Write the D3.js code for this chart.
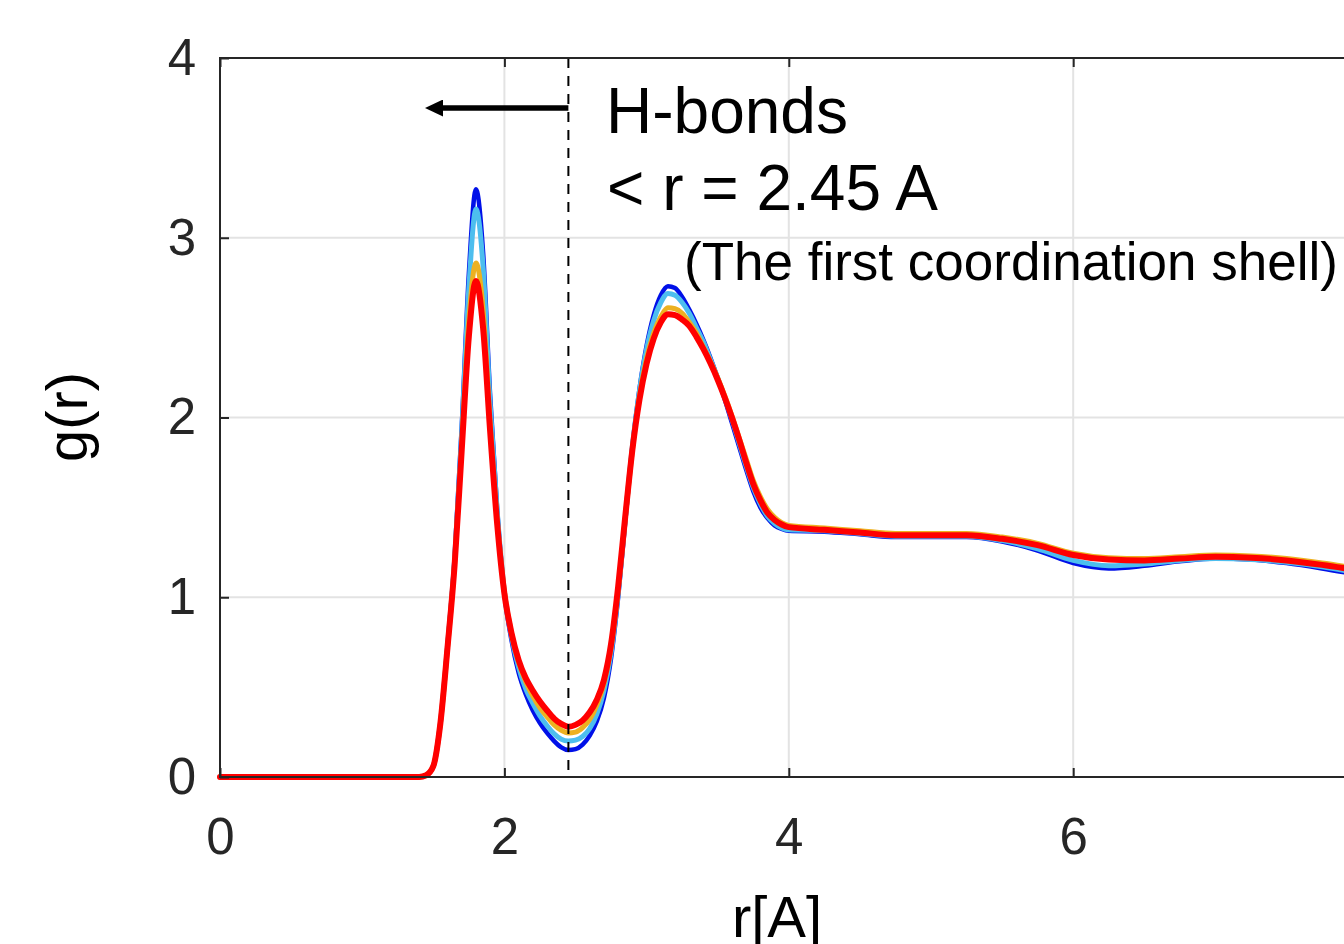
<!DOCTYPE html>
<html>
<head>
<meta charset="utf-8">
<script src="https://cdn.jsdelivr.net/npm/d3@7"></script>
<style>
  html, body { margin: 0; padding: 0; background: #fff; overflow: hidden; }
  svg { display: block; font-family: "Liberation Sans", Arial, Helvetica, sans-serif; }
</style>
</head>
<body>
<svg id="chart" width="1344" height="944"></svg>
<script>
// Radial distances r [A] shared by every curve
const rValues = [0, 0.5, 1.0,
  1.40, 1.45, 1.50, 1.55, 1.60, 1.65, 1.70, 1.75, 1.80, 1.85, 1.90, 1.95,
  2.00, 2.05, 2.10, 2.15, 2.20, 2.25, 2.30, 2.35, 2.40, 2.45, 2.50, 2.55,
  2.60, 2.65, 2.70, 2.75, 2.80, 2.85, 2.90, 2.95, 3.00, 3.05, 3.10, 3.15,
  3.20, 3.25, 3.30, 3.35, 3.40, 3.45, 3.50, 3.55, 3.60, 3.65, 3.70, 3.75,
  3.80, 3.85, 3.90, 3.95, 4.00,
  4.25, 4.50, 4.75, 5.00, 5.25, 5.50, 5.75, 6.00, 6.25, 6.50, 6.75, 7.00,
  7.25, 7.50, 7.75, 8.00];

// g(r) for each run
const gBlue = [0, 0, 0,
  0, 0.01, 0.06, 0.30, 0.73, 1.22, 1.95, 2.80, 3.27, 2.92, 2.12, 1.48,
  1.02, 0.76, 0.58, 0.46, 0.37, 0.30, 0.245, 0.20, 0.165, 0.15, 0.155, 0.18,
  0.23, 0.31, 0.44, 0.66, 1.00, 1.42, 1.84, 2.16, 2.40, 2.57, 2.68, 2.73,
  2.72, 2.67, 2.60, 2.52, 2.43, 2.33, 2.22, 2.10, 1.97, 1.84, 1.71, 1.59,
  1.50, 1.44, 1.40, 1.38, 1.37,
  1.365, 1.35, 1.335, 1.335, 1.335, 1.31, 1.26, 1.19, 1.16, 1.175, 1.20, 1.215,
  1.21, 1.19, 1.16, 1.125];

const gLightBlue = [0, 0, 0,
  0, 0.01, 0.06, 0.30, 0.73, 1.21, 1.92, 2.72, 3.16, 2.84, 2.07, 1.47,
  1.03, 0.78, 0.61, 0.49, 0.41, 0.34, 0.285, 0.24, 0.21, 0.20, 0.205, 0.225,
  0.27, 0.35, 0.48, 0.69, 1.02, 1.44, 1.84, 2.15, 2.38, 2.54, 2.64, 2.69,
  2.68, 2.64, 2.58, 2.50, 2.42, 2.32, 2.22, 2.11, 1.99, 1.86, 1.73, 1.61,
  1.52, 1.45, 1.41, 1.385, 1.375,
  1.37, 1.355, 1.34, 1.34, 1.34, 1.315, 1.27, 1.205, 1.175, 1.185, 1.205, 1.215,
  1.21, 1.195, 1.17, 1.135];

const gOrange = [0, 0, 0,
  0, 0.01, 0.06, 0.30, 0.72, 1.19, 1.85, 2.54, 2.86, 2.60, 1.96, 1.42,
  1.03, 0.80, 0.64, 0.53, 0.45, 0.385, 0.335, 0.29, 0.26, 0.245, 0.25, 0.275,
  0.32, 0.40, 0.52, 0.72, 1.04, 1.44, 1.82, 2.12, 2.33, 2.47, 2.56, 2.61,
  2.605, 2.58, 2.53, 2.47, 2.39, 2.31, 2.22, 2.12, 2.01, 1.89, 1.77, 1.65,
  1.56, 1.49, 1.445, 1.415, 1.40,
  1.385, 1.37, 1.355, 1.355, 1.355, 1.335, 1.30, 1.245, 1.22, 1.215, 1.225, 1.235,
  1.23, 1.215, 1.19, 1.16];

const gRed = [0, 0, 0,
  0, 0.01, 0.06, 0.30, 0.72, 1.18, 1.82, 2.45, 2.76, 2.50, 1.92, 1.40,
  1.02, 0.80, 0.65, 0.55, 0.48, 0.42, 0.37, 0.325, 0.295, 0.28, 0.29, 0.315,
  0.36, 0.43, 0.54, 0.74, 1.06, 1.45, 1.82, 2.10, 2.30, 2.44, 2.53, 2.575,
  2.57, 2.545, 2.51, 2.45, 2.38, 2.30, 2.21, 2.11, 2.00, 1.88, 1.75, 1.63,
  1.54, 1.47, 1.43, 1.405, 1.39,
  1.375, 1.36, 1.345, 1.345, 1.345, 1.325, 1.29, 1.235, 1.21, 1.205, 1.215, 1.225,
  1.22, 1.205, 1.18, 1.15];

const seriesList = [
  { name: "blue", values: gBlue, color: "#0010e8", width: 4.5 },
  { name: "lightblue", values: gLightBlue, color: "#4dbeee", width: 5 },
  { name: "orange", values: gOrange, color: "#edb120", width: 5 },
  { name: "red", values: gRed, color: "#ff0000", width: 6 }
];

const xTicks = [0, 2, 4, 6, 8];
const xTickLabels = [0, 2, 4, 6];
const yTicks = [0, 1, 2, 3, 4];
const hbondCutoff = 2.45;

const svg = d3.select("#chart");

const x = d3.scaleLinear().domain([0, 8]).range([220, 1357.6]);
const y = d3.scaleLinear().domain([0, 4]).range([777, 58]);

const axisColor = "#262626";

// grid
const grid = svg.append("g");
grid.selectAll("line.gx").data(xTicks.slice(1)).join("line")
  .attr("x1", d => x(d)).attr("x2", d => x(d))
  .attr("y1", y(0)).attr("y2", y(4))
  .attr("stroke", "#e3e3e3").attr("stroke-width", 2);
grid.selectAll("line.gy").data(yTicks.slice(1, -1)).join("line")
  .attr("x1", x(0)).attr("x2", x(8))
  .attr("y1", d => y(d)).attr("y2", d => y(d))
  .attr("stroke", "#e3e3e3").attr("stroke-width", 2);

// curves
const line = d3.line()
  .x((d, i) => x(rValues[i]))
  .y(d => y(d))
  .curve(d3.curveMonotoneX);

svg.append("g").selectAll("path").data(seriesList).join("path")
  .attr("d", s => line(s.values))
  .attr("fill", "none")
  .attr("stroke", s => s.color)
  .attr("stroke-width", s => s.width)
  .attr("stroke-linejoin", "round")
  .attr("stroke-linecap", "round");

// cutoff line
svg.append("line")
  .attr("x1", x(hbondCutoff)).attr("x2", x(hbondCutoff))
  .attr("y1", y(4)).attr("y2", y(0))
  .attr("stroke", "#000").attr("stroke-width", 2)
  .attr("stroke-dasharray", "10,8");

// axes
const xAxis = d3.axisBottom(x).tickValues(xTicks)
  .tickFormat(d => xTickLabels.includes(d) ? d3.format("d")(d) : "")
  .tickSizeInner(-9).tickSizeOuter(0).tickPadding(41);
const gx = svg.append("g").attr("transform", `translate(0,${y(0)})`).call(xAxis);

const xAxisTop = d3.axisTop(x).tickValues(xTicks).tickFormat("")
  .tickSizeInner(-9).tickSizeOuter(0);
const gxt = svg.append("g").attr("transform", `translate(0,${y(4)})`).call(xAxisTop);

const yAxis = d3.axisLeft(y).tickValues(yTicks).tickFormat(d3.format("d"))
  .tickSizeInner(-9).tickSizeOuter(0).tickPadding(24);
const gy = svg.append("g").attr("transform", `translate(${x(0)},0)`).call(yAxis);

const yAxisRight = d3.axisRight(y).tickValues(yTicks).tickFormat("")
  .tickSizeInner(-9).tickSizeOuter(0);
const gyr = svg.append("g").attr("transform", `translate(${x(8)},0)`).call(yAxisRight);

[gx, gxt, gy, gyr].forEach(g => {
  g.select(".domain").remove();
  g.selectAll(".tick line").attr("stroke", axisColor).attr("stroke-width", 2);
  g.selectAll(".tick text").attr("fill", axisColor)
    .style("font-size", "51px")
    .style("font-family", "'Liberation Sans', Arial, Helvetica, sans-serif");
});

// frame
svg.append("rect")
  .attr("x", x(0)).attr("y", y(4))
  .attr("width", x(8) - x(0)).attr("height", y(0) - y(4))
  .attr("fill", "none").attr("stroke", axisColor).attr("stroke-width", 2);

// axis titles
svg.append("text")
  .attr("x", 777).attr("y", 937)
  .attr("text-anchor", "middle")
  .style("font-size", "58px").attr("fill", "#000")
  .text("r[A]");

svg.append("text")
  .attr("transform", "translate(87,417) rotate(-90)")
  .attr("text-anchor", "middle")
  .style("font-size", "58px").attr("fill", "#000")
  .text("g(r)");

// arrow toward shorter distances
svg.append("defs").append("marker")
  .attr("id", "arrowhead")
  .attr("viewBox", "0 0 18 17")
  .attr("refX", 0).attr("refY", 8.5)
  .attr("markerWidth", 18).attr("markerHeight", 17)
  .attr("markerUnits", "userSpaceOnUse")
  .attr("orient", "auto-start-reverse")
  .append("path").attr("d", "M0,0 L18,8.5 L0,17 Z").attr("fill", "#000");

svg.append("line")
  .attr("x1", x(hbondCutoff)).attr("x2", 443)
  .attr("y1", 108).attr("y2", 108)
  .attr("stroke", "#000").attr("stroke-width", 5.5)
  .attr("marker-end", "url(#arrowhead)");

// annotations
svg.append("text").attr("x", 606).attr("y", 133)
  .style("font-size", "64px").attr("fill", "#000").text("H-bonds");
svg.append("text").attr("x", 607).attr("y", 210)
  .style("font-size", "64px").attr("fill", "#000").text("< r = 2.45 A");
svg.append("text").attr("x", 684).attr("y", 280)
  .style("font-size", "53px").attr("fill", "#000").text("(The first coordination shell)");
</script>
</body>
</html>
